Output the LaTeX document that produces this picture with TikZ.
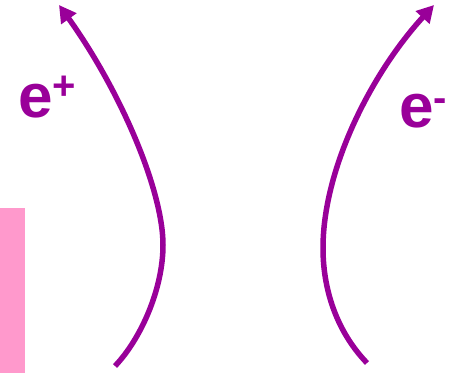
\documentclass[tikz,border=0pt]{standalone}
\usepackage{fontspec}
\setmainfont{Liberation Sans}
\usetikzlibrary{arrows.meta}
\definecolor{trackpurple}{HTML}{990099}
\definecolor{barpink}{HTML}{FF99CC}
\tikzset{
  track/.style={draw=trackpurple, line width=5.5pt, -{Triangle[length=17pt,width=18pt]}},
  lbl/.style={text=trackpurple, font=\bfseries\fontsize{62}{62}\selectfont, inner sep=0pt, anchor=base west},
}
\newcommand{\supr}[2]{\raisebox{#1}{\fontsize{40}{40}\selectfont #2}}
\begin{document}
\begin{tikzpicture}[x=1pt,y=-1pt]
\useasboundingbox (0,0) rectangle (461,373);
\node[fill=barpink, draw=none, inner sep=0pt, minimum width=25pt, minimum height=165pt, anchor=north west] (bar) at (0,208) {};
\coordinate (pStart) at (115,366);
\coordinate (pMid) at (163,245);
\coordinate (pEnd) at (59,5);
\coordinate (mStart) at (367,363);
\coordinate (mMid) at (323,248);
\coordinate (mEnd) at (434,5);
\draw[track] (pStart) .. controls (140,340) and (163,290) .. (pMid)
  .. controls (163,190) and (120,90) .. (pEnd);
\draw[track] (mStart) .. controls (340,335) and (323,295) .. (mMid)
  .. controls (323,170) and (370,75) .. (mEnd);
\node[lbl] (eplus) at (18,117) {e\supr{18pt}{+}};
\node[lbl] (eminus) at (399,127) {e\supr{16pt}{-}};
\end{tikzpicture}
\end{document}
